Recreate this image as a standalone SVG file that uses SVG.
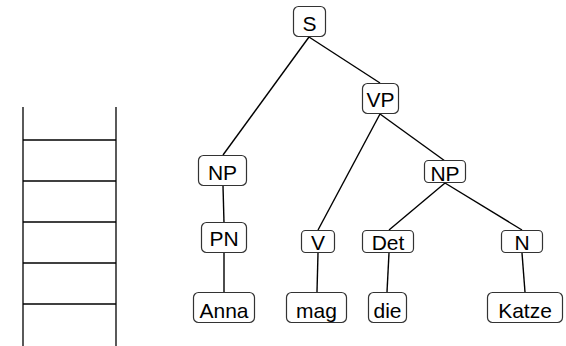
<svg xmlns="http://www.w3.org/2000/svg" width="566" height="346" viewBox="0 0 566 346">
<style>
.box{fill:#fff;stroke:#333;stroke-width:1.2}
.lbl{font-family:"Liberation Sans",Arial,sans-serif;font-size:21px;fill:#000;text-anchor:middle}
.edge{stroke:#000;stroke-width:1.4;fill:none}
.lad{stroke:#000;stroke-width:1.3;fill:none}
</style>
<rect width="566" height="346" fill="#fff"/>
<g id="stack" class="lad">
<line x1="23" y1="107" x2="23" y2="346"/>
<line x1="116" y1="107" x2="116" y2="346"/>
<line x1="23" y1="140" x2="116" y2="140"/>
<line x1="23" y1="181" x2="116" y2="181"/>
<line x1="23" y1="222" x2="116" y2="222"/>
<line x1="23" y1="263" x2="116" y2="263"/>
<line x1="23" y1="304" x2="116" y2="304"/>
</g>
<g id="connectors" class="edge">
<line x1="309" y1="37" x2="223" y2="155"/>
<line x1="309" y1="37" x2="380" y2="83"/>
<line x1="380" y1="114" x2="318" y2="230"/>
<line x1="380" y1="114" x2="445" y2="161"/>
<line x1="223" y1="186" x2="224" y2="223"/>
<line x1="224" y1="253" x2="224" y2="292"/>
<line x1="318" y1="253" x2="317" y2="292"/>
<line x1="445" y1="183" x2="389" y2="230"/>
<line x1="445" y1="183" x2="522" y2="230"/>
<line x1="389" y1="253" x2="387" y2="292"/>
<line x1="522" y1="253" x2="525" y2="292"/>
</g>
<g id="S"><rect class="box" x="293.5" y="6.5" width="32" height="30" rx="5"/><text class="lbl" x="309.5" y="30.5">S</text></g>
<g id="VP"><rect class="box" x="362.5" y="83.5" width="36" height="30" rx="5"/><text class="lbl" x="380.5" y="106.5">VP</text></g>
<g id="NP1"><rect class="box" x="198.5" y="155.5" width="48" height="30" rx="5"/><text class="lbl" x="222.5" y="180">NP</text></g>
<g id="NP2"><rect class="box" x="424.5" y="160.5" width="41" height="22" rx="4"/><text class="lbl" x="445" y="181">NP</text></g>
<g id="PN"><rect class="box" x="201.5" y="222.5" width="45" height="30" rx="5"/><text class="lbl" x="224" y="246">PN</text></g>
<g id="V"><rect class="box" x="301.5" y="230.5" width="33" height="22" rx="4"/><text class="lbl" x="318" y="250">V</text></g>
<g id="Det"><rect class="box" x="362.5" y="230.5" width="51" height="22" rx="4"/><text class="lbl" x="388" y="250">Det</text></g>
<g id="N"><rect class="box" x="501.5" y="230.5" width="41" height="22" rx="4"/><text class="lbl" x="522" y="250">N</text></g>
<g id="Anna"><rect class="box" x="193.5" y="292.5" width="61" height="30" rx="5"/><text class="lbl" x="224" y="318">Anna</text></g>
<g id="mag"><rect class="box" x="286.5" y="292.5" width="60" height="30" rx="5"/><text class="lbl" x="316.5" y="318">mag</text></g>
<g id="die"><rect class="box" x="368.5" y="292.5" width="38" height="30" rx="5"/><text class="lbl" x="387.5" y="318">die</text></g>
<g id="Katze"><rect class="box" x="487.5" y="292.5" width="75" height="30" rx="5"/><text class="lbl" x="525" y="318">Katze</text></g>
</svg>
